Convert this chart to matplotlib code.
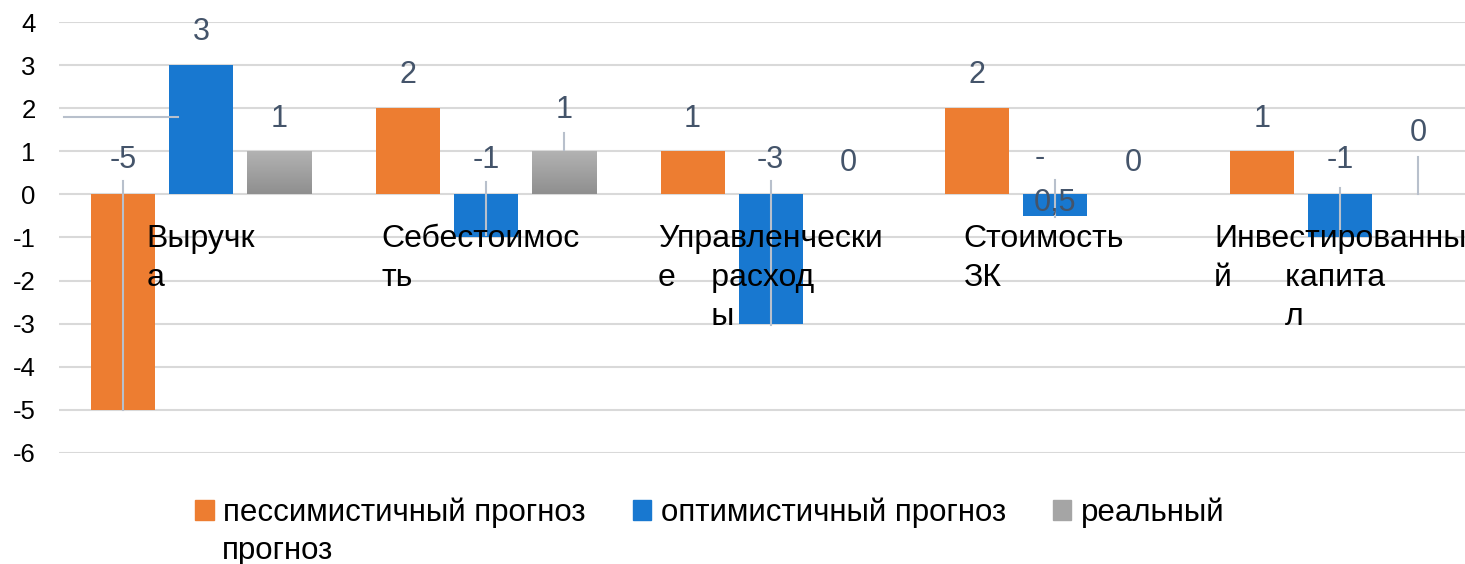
import numpy as np
import matplotlib
matplotlib.use("Agg")
import matplotlib.pyplot as plt
from matplotlib.patches import Patch

plt.rcParams['font.family'] = ['Liberation Sans', 'DejaVu Sans']
plt.rcParams['axes.unicode_minus'] = False

# data
categories = ["Выручк\nа", "Себестоимос\nть", "Управленчески\nе    расход\n      ы",
              "Стоимость\nЗК", "Инвестированны\nй      капита\n        л"]
series_names = ["пессимистичный прогноз", "оптимистичный прогноз", "реальный"]
pessimistic = [-5, 2, 1, 2, 1]
optimistic = [3, -1, -3, -0.5, -1]
real = [1, 1, 0, 0, 0]

colors = ["#ED7D31", "#1878D0", "#A5A5A5"]
label_color = "#44546A"
leader_color = "#B8C0CC"
grid_color = "#D9D9D9"

# label placement tweaks (series, category) -> y
label_override = {(2, 1): 1.95, (2, 4): 1.42, (1, 3): 0.32}
# leader lines (series, category, y_from, y_to)
leaders = [(0, 0, 0.32, -5.0), (1, 1, 0.28, -0.95), (2, 1, 1.42, 1.02),
           (1, 2, 0.32, -3.04), (1, 3, 0.34, -0.53), (1, 4, 0.14, -1.3),
           (2, 4, 0.86, 0.0)]
cat_shift = [0, -0.018, 0, -0.04, 0]

# plot area runs a little past the right edge of the image
fig = plt.figure(figsize=(14.65, 5.64), dpi=100)
ax = fig.add_axes([58.6 / 1465, 111 / 564, 1424 / 1465, 431 / 564])

x = np.arange(len(categories))
width = 0.225
step = 0.274
all_vals = [pessimistic, optimistic, real]

containers = []
for i, vals in enumerate(all_vals):
    bc = ax.bar(x + (i - 1) * step, vals, width, color=colors[i], zorder=2)
    containers.append(bc)

# gradient on the grey bars
grad = np.linspace(0, 1, 100).reshape(-1, 1)
gcmap = matplotlib.colors.LinearSegmentedColormap.from_list("g", ["#8F8F8F", "#B3B3B3"])
for rect in containers[2]:
    if rect.get_height() == 0:
        continue
    x0, y0 = rect.get_x(), rect.get_y()
    im = ax.imshow(grad, extent=[x0, x0 + rect.get_width(), y0, y0 + rect.get_height()],
                   cmap=gcmap, origin="lower", aspect="auto", zorder=2.1)
    im.set_clip_path(rect)

# data labels
for i, vals in enumerate(all_vals):
    for j, v in enumerate(vals):
        txt = f"{v:g}".replace(".", ",")
        if len(txt) > 2:
            txt = txt[0] + "\n" + txt[1:]
        if v > 0:
            ly = v + 0.76
        elif v < 0:
            ly = 0.79
        else:
            ly = 0.72
        ly = label_override.get((i, j), ly)
        ax.text(x[j] + (i - 1) * step, ly, txt, ha="center", va="center",
                multialignment="left", fontsize=22, color=label_color,
                zorder=4, linespacing=1.65)

# leader lines
for i, j, y0, y1 in leaders:
    xc = x[j] + (i - 1) * step
    ax.plot([xc, xc], [y0, y1], color=leader_color, lw=1.5, zorder=3)
# horizontal leader for the "3" label
bl = x[0] - width / 2
ax.plot([-0.481, bl + 0.03], [1.79, 1.79], color=leader_color, lw=1.5, zorder=3)

# category labels inside plot
for j, cat in enumerate(categories):
    ax.text(x[j] + cat_shift[j], -0.69, cat, ha="center", va="top", multialignment="left",
            fontsize=23, color="black", zorder=5, linespacing=1.38)

ax.set_xlim(-0.5, len(categories) - 0.5)
ax.set_ylim(-6, 4)
ax.set_yticks(np.arange(-6, 5, 1))
ax.set_xticks([])
ax.grid(axis="y", color=grid_color, lw=1.5, zorder=0)
for s in ax.spines.values():
    s.set_visible(False)
ax.tick_params(axis="y", length=0, labelsize=18.5, pad=16.5)

handles = [Patch(color=c) for c in colors]
fig.legend(handles, series_names, loc="center left", bbox_to_anchor=(195 / 1465, 51 / 564),
           ncol=3, frameon=False, fontsize=22.5, handlelength=0.6, handleheight=0.6,
           handletextpad=0.3, columnspacing=1.5, borderpad=0, borderaxespad=0)
fig.text(222 / 1465, 13 / 564, "прогноз", fontsize=22.5, va="center", ha="left")

fig.savefig("out.png", dpi=100)
